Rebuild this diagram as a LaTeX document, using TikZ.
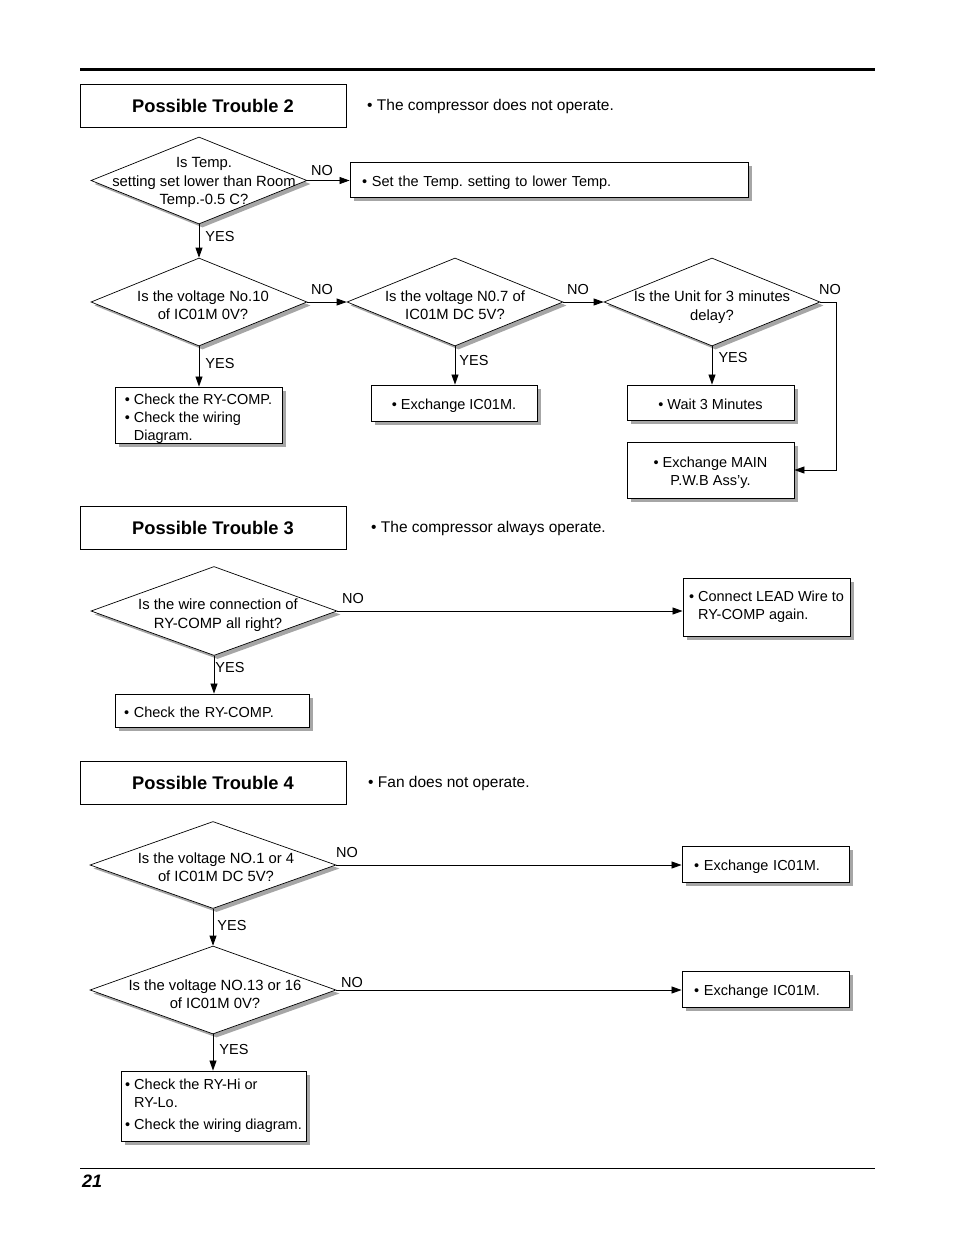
\documentclass[tikz,border=0pt]{standalone}
\usepackage{fontspec}
\setmainfont{Liberation Sans}
\usetikzlibrary{shapes.geometric,arrows.meta,shadows}
\frenchspacing
\tikzset{
  shad/.style={drop shadow={shadow xshift=3.5pt,shadow yshift=-3.5pt,fill=black!35,opacity=1}},
  dia/.style={draw,diamond,inner sep=0pt,fill=white,shad,line width=0.7pt},
  dtxt/.style={align=center,inner sep=0pt,font=\fontsize{14.8}{18.5}\selectfont},
  box/.style={draw,rectangle,fill=white,shad,line width=0.9pt,inner ysep=0pt,
    font=\fontsize{14.5}{18}\selectfont},
  titlebox/.style={draw,rectangle,minimum width=266pt,minimum height=43pt,
    font=\fontsize{18.3}{22}\selectfont\bfseries,line width=0.8pt},
  desc/.style={anchor=west,inner sep=0pt,font=\fontsize{15.5}{18}\selectfont},
  arr/.style={-{Triangle[length=10pt,width=7pt]},line width=0.8pt},
  lbl/.style={inner sep=0pt,font=\fontsize{14.5}{18}\selectfont},
}
\newcommand{\bu}{\textbullet\ }
\newcommand{\ind}{\phantom{\textbullet\ }}
\newcommand{\dn}{\rule{0pt}{15pt}}
\newcommand{\dnb}{\rule{0pt}{17pt}}
\begin{document}
\begin{tikzpicture}[x=1pt,y=-1pt]
\useasboundingbox (0,0) rectangle (954,1243);
% page rules
\draw[line width=3pt] (80,69) -- (875,69);
\draw[line width=0.8pt] (80,1168) -- (875,1168);
\node[anchor=west,inner sep=0pt,font=\fontsize{18}{22}\selectfont\bfseries\itshape] (pg) at (82,1181) {21};

% ---------------- Trouble 2
\node[titlebox] (t2) at (213,106) {Possible Trouble 2};
\node[desc] (t2d) at (367,106.5) {\bu The compressor does not operate.};

\node[dia,minimum width=216pt,minimum height=87pt,
  label={[dtxt,xshift=5pt,yshift=-2pt]center:Is Temp.\\setting set lower than Room\\Temp.-0.5 C?}] (d1) at (199,180.5) {};
\node[box,minimum height=35pt,text width=374pt,inner xsep=12pt,align=left] (b1) at (549,180)
  {\dn\bu Set the Temp. setting to lower Temp.};

\node[dia,minimum width=216pt,minimum height=88pt,
  label={[dtxt,xshift=4pt,yshift=-3pt]center:Is the voltage No.10\\of IC01M 0V?}] (d2) at (199,302) {};
\node[dia,minimum width=216pt,minimum height=88pt,
  label={[dtxt,yshift=-3pt]center:Is the voltage N0.7 of\\IC01M DC 5V?}] (d3) at (455,302) {};
\node[dia,minimum width=216pt,minimum height=88pt,
  label={[dtxt,yshift=-5pt]center:Is the Unit for 3 minutes\\delay?}] (d4) at (712,302) {};

\node[box,minimum width=167pt,minimum height=56pt,align=left] (b2) at (198.5,415)
  {\dnb\bu Check the RY-COMP.\\\bu Check the wiring\\\ind Diagram.};
\node[box,minimum width=166pt,minimum height=36pt,align=center] (b3) at (454,403) {\dn\bu Exchange IC01M.};
\node[box,minimum width=167pt,minimum height=35pt,align=center] (b4) at (710.5,402.5) {\dn\bu Wait 3 Minutes};
\node[box,minimum width=167pt,minimum height=56pt,align=center] (b5) at (710.5,470)
  {\dn\bu Exchange MAIN\\P.W.B Ass'y.};

\draw[arr] (d1.east) -- (b1.west |- d1.east);
\draw[arr] (d1.south) -- (d2.north);
\draw[arr] (d2.east) -- (d3.west);
\draw[arr] (d3.east) -- (d4.west);
\draw[arr] (d2.south) -- (d2.south |- b2.north);
\draw[arr] (d3.south) -- (d3.south |- b3.north);
\draw[arr] (d4.south) -- (d4.south |- b4.north);
\draw[arr] (d4.east) -- (836,302) |- (b5.east);

\node[lbl] (n1) at (322,171) {NO};
\node[lbl] (y1) at (220,237) {YES};
\node[lbl] (n2) at (322,290) {NO};
\node[lbl] (n3) at (578,290) {NO};
\node[lbl] (n4) at (830,290) {NO};
\node[lbl] (y2) at (220,364) {YES};
\node[lbl] (y3) at (474,361) {YES};
\node[lbl] (y4) at (733,358) {YES};

% ---------------- Trouble 3
\node[titlebox] (t3) at (213,528) {Possible Trouble 3};
\node[desc] (t3d) at (371,528.5) {\bu The compressor always operate.};

\node[dia,minimum width=246pt,minimum height=89pt,
  label={[dtxt,xshift=4pt,yshift=-4pt]center:Is the wire connection of\\RY-COMP all right?}] (d5) at (214,611) {};
\node[box,minimum width=167pt,minimum height=58pt,align=left] (b6) at (766.5,607)
  {\bu Connect LEAD Wire to\\\ind RY-COMP again.};
\node[box,minimum height=33pt,text width=176pt,inner xsep=9pt,align=left] (b7) at (212,710.5)
  {\dn\bu Check the RY-COMP.};
\draw[arr] (d5.east) -- (b6.west |- d5.east);
\draw[arr] (d5.south) -- (d5.south |- b7.north);
\node[lbl] (n5) at (353,598) {NO};
\node[lbl] (y5) at (230,667) {YES};

% ---------------- Trouble 4
\node[titlebox] (t4) at (213,783) {Possible Trouble 4};
\node[desc] (t4d) at (368,783.5) {\bu Fan does not operate.};

\node[dia,minimum width=246pt,minimum height=87pt,
  label={[dtxt,xshift=3pt,yshift=-2pt]center:Is the voltage NO.1 or 4\\of IC01M DC 5V?}] (d6) at (213,865) {};
\node[dia,minimum width=246pt,minimum height=88pt,
  label={[dtxt,xshift=2pt,yshift=-4pt]center:Is the voltage NO.13 or 16\\of IC01M 0V?}] (d7) at (213,990) {};
\node[box,minimum height=36pt,text width=143pt,inner xsep=12pt,align=left] (b8) at (765.5,864)
  {\dn\bu Exchange IC01M.};
\node[box,minimum height=36pt,text width=143pt,inner xsep=12pt,align=left] (b9) at (765.5,989)
  {\dn\bu Exchange IC01M.};
\node[box,minimum width=185pt,minimum height=70pt,align=left] (b10) at (213.5,1106)
  {\bu Check the RY-Hi or\\\ind RY-Lo.\\[4pt]\bu Check the wiring diagram.};

\draw[arr] (d6.east) -- (b8.west |- d6.east);
\draw[arr] (d7.east) -- (b9.west |- d7.east);
\draw[arr] (d6.south) -- (d7.north);
\draw[arr] (d7.south) -- (d7.south |- b10.north);
\node[lbl] (n6) at (347,852) {NO};
\node[lbl] (n7) at (352,982) {NO};
\node[lbl] (y6) at (232,925) {YES};
\node[lbl] (y7) at (234,1049) {YES};
\end{tikzpicture}
\end{document}
